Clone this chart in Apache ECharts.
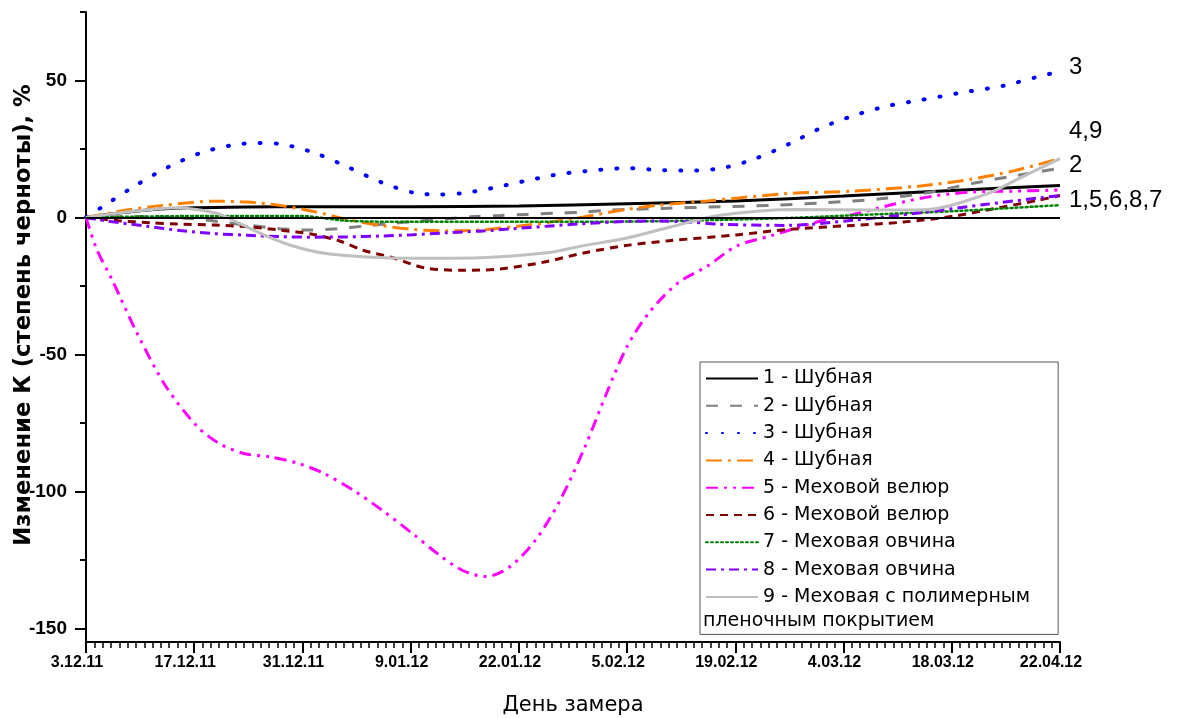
<!DOCTYPE html>
<html>
<head>
<meta charset="utf-8">
<script src="https://cdn.jsdelivr.net/npm/echarts/dist/echarts.min.js"></script>
<style>
  html, body { margin: 0; padding: 0; background: #fff; }
  #chart { width: 1184px; height: 718px; }
</style>
</head>
<body>
<div id="chart"></div>
<script>
// подписи по оси X (равномерные деления)
const dateLabels = ["3.12.11", "17.12.11", "31.12.11", "9.01.12", "22.01.12",
  "5.02.12", "19.02.12", "4.03.12", "18.03.12", "22.04.12"];
const yMajorTicks = [-150, -100, -50, 0, 50];
const yMinorTicks = [-125, -75, -25, 25, 75];

const seriesNames = [
  "1 - Шубная",
  "2 - Шубная",
  "3 - Шубная",
  "4 - Шубная",
  "5 - Меховой велюр",
  "6 - Меховой велюр",
  "7 - Меховая овчина",
  "8 - Меховая овчина",
  "9 - Меховая с полимерным"
];

// x - позиция в делениях оси, y - изменение, %
const x1 = [0, 0.3, 0.6, 1, 1.5, 2, 3, 4, 5, 6, 7, 8, 9];
const y1 = [0, 1.6, 2.8, 3.5, 3.8, 3.9, 3.9, 4.2, 5, 6, 7.8, 9.8, 11.7];

const x2 = [0, 0.5, 1, 1.3, 1.79, 2.07, 2.32, 2.56, 2.81, 3.06, 3.33, 3.58, 3.83, 4.07, 4.32, 4.57, 4.81, 5.33, 5.86, 6.32, 6.85, 7.34, 7.77, 8.2, 8.57, 9];
const y2 = [0, 0.3, -0.5, -1.9, -4.1, -4.6, -4.1, -3.2, -2.2, -1.4, -0.5, 0.3, 0.7, 1.1, 1.5, 1.9, 2.6, 3.3, 3.9, 4.4, 5.4, 6.8, 9, 12.5, 15.1, 18];

const x3 = [0, 0.16, 0.46, 0.76, 1.07, 1.37, 1.6, 1.83, 2.13, 2.43, 2.73, 3.03, 3.26, 3.49, 3.79, 4.09, 4.39, 4.7, 5, 5.3, 5.6, 5.9, 6.2, 6.51, 6.81, 7.12, 7.42, 7.72, 8.08, 8.48, 8.78, 9];
const y3 = [0, 4.1, 11.7, 18.4, 23.7, 26.5, 27.2, 26.6, 23.3, 18.2, 12.8, 9, 8.4, 8.9, 11, 13.6, 15.9, 17.2, 18, 17.3, 17.1, 18.2, 21.7, 27.1, 33, 37.5, 40.8, 42.9, 45.5, 48.1, 51.2, 53.3];

const x4 = [0, 0.35, 0.71, 1.18, 1.49, 1.79, 2.1, 2.41, 2.72, 3.02, 3.33, 3.64, 3.95, 4.26, 4.6, 4.96, 5.27, 5.74, 6.48, 7.09, 7.71, 8.17, 8.57, 9];
const y4 = [0, 2.5, 4.4, 5.9, 5.6, 4.4, 2.2, -0.7, -2.9, -4.4, -4.9, -4.6, -3.4, -1.9, 0.2, 2.7, 4.4, 6, 8.7, 9.6, 11.5, 13.9, 17, 21.5];

const x5 = [0, 0.1, 0.24, 0.47, 0.74, 1.03, 1.23, 1.46, 1.7, 1.97, 2.2, 2.47, 2.74, 3.02, 3.25, 3.48, 3.7, 3.91, 4.15, 4.38, 4.61, 4.81, 5, 5.2, 5.47, 5.74, 6.01, 6.32, 6.78, 7.09, 7.46, 7.83, 8.2, 8.57, 9];
const y5 = [0, -11.7, -22.7, -42.1, -61.8, -76.4, -82.5, -86.2, -87.4, -89.9, -93.5, -99.6, -107, -115.5, -122.8, -128.9, -131.1, -127.7, -118, -103.3, -83.8, -64.2, -47.1, -34.9, -23.9, -17.8, -10.5, -6.8, -1.4, 1.1, 4.8, 7.8, 9.3, 9.6, 10];

const x6 = [0, 0.3, 0.59, 0.84, 1.18, 1.49, 1.79, 2.1, 2.35, 2.56, 2.81, 3.13, 3.48, 3.83, 4.22, 4.61, 5, 5.39, 6.01, 6.48, 7.09, 7.55, 8.02, 8.39, 8.79, 9];
const y6 = [0, -1.2, -1.9, -2.4, -2.8, -3.4, -4.6, -6.2, -8.7, -12, -14.4, -18.4, -19.3, -18.8, -16.4, -12.9, -10.2, -8.5, -6.4, -4.4, -2.9, -1.7, 0.5, 3.2, 6.2, 8];

const x7 = [0, 1, 2, 2.4, 3, 4, 5, 5.86, 6.5, 7.09, 8.02, 9];
const y7 = [0, 0.5, 0.5, -1.2, -1.6, -1.6, -1.5, -0.9, -0.2, 0.8, 2.3, 4.5];

const x8 = [0, 0.19, 0.56, 0.87, 1.18, 1.49, 1.79, 2.1, 2.41, 2.72, 3.02, 3.33, 3.64, 3.95, 4.26, 4.54, 4.97, 5.27, 5.58, 5.86, 6.48, 7.09, 7.71, 8.32, 9];
const y8 = [0, -1.3, -3.2, -4.8, -5.9, -6.5, -7, -7.2, -7.1, -6.8, -6.3, -5.6, -5, -4.1, -3.2, -2.4, -1.5, -1.3, -1.7, -2.5, -2.9, -1, 1.7, 4.8, 8];

const x9 = [0, 0.3, 0.56, 0.81, 1.02, 1.24, 1.42, 1.67, 1.92, 2.22, 2.59, 3.02, 3.64, 4.26, 4.57, 5, 5.4, 5.86, 6.56, 7.25, 7.75, 8.32, 8.61, 9];
const y9 = [0, 1.6, 2.7, 3.4, 2.9, 1.1, -2.2, -6.8, -10.5, -13.2, -14.4, -14.9, -14.7, -12.9, -10.5, -7.5, -3.5, 0.8, 2.9, 2.7, 2.8, 8.5, 14, 21.5];

const allX = [x1, x2, x3, x4, x5, x6, x7, x8, x9];
const allY = [y1, y2, y3, y4, y5, y6, y7, y8, y9];

const colors = ["#000000", "#808080", "#0000ff", "#ff8000", "#ff00ff", "#800000", "#008000", "#8000ff", "#c0c0c0"];
const dashes = ["solid", [12, 12], [1, 15], [16, 6, 3, 6], [12, 6, 3, 6, 3, 6], [8, 6], [2, 3], [10, 5, 3, 5], "solid"];
const widths = [3, 3, 4, 3, 3, 3, 2.5, 3, 3];

const font = "Liberation Sans";
const wideFont = "DejaVu Sans";

const myChart = echarts.init(document.getElementById("chart"));

const seriesArr = seriesNames.map((name, i) => {
  const s = {
    name: name,
    type: "line",
    smooth: 0.3,
    symbol: "none",
    data: allX[i].map((x, k) => [x, allY[i][k]]),
    lineStyle: {
      color: colors[i],
      width: widths[i],
      type: dashes[i],
      cap: i === 2 || i === 6 ? "round" : "butt"
    },
    itemStyle: { color: colors[i] }
  };
  if (i === 0) {
    // нулевая линия
    s.markLine = {
      silent: true,
      symbol: "none",
      label: { show: false },
      lineStyle: { color: "#000", width: 2, type: "solid" },
      data: [{ yAxis: 0 }]
    };
  }
  return s;
});

myChart.setOption({
  animation: false,
  backgroundColor: "#fff",
  grid: { left: 86, right: 124, top: 12, bottom: 76, outerBoundsMode: "none" },
  xAxis: {
    type: "value",
    min: 0,
    max: 9,
    interval: 1,
    name: "День замера",
    nameLocation: "middle",
    nameGap: 53,
    nameMoveOverlap: false,
    nameTextStyle: { fontFamily: wideFont, fontSize: 21, color: "#000" },
    axisLine: { onZero: false, lineStyle: { color: "#000", width: 2 } },
    axisTick: { length: 11, lineStyle: { color: "#000", width: 2 } },
    minorTick: { show: true, splitNumber: 13, length: 6, lineStyle: { color: "#000", width: 1.5 } },
    splitLine: { show: false },
    axisLabel: {
      margin: 13,
      padding: [0, 18, 0, 0],
      fontFamily: font,
      fontSize: 16,
      fontWeight: "bold",
      color: "#000",
      formatter: (v) => dateLabels[Math.round(v)]
    }
  },
  yAxis: [
    {
      type: "value",
      min: -155,
      max: 75,
      name: "Изменение К (степень черноты), %",
      nameLocation: "middle",
      nameGap: 50,
      nameMoveOverlap: false,
      nameTextStyle: { fontFamily: wideFont, fontSize: 22.7, fontWeight: "bold", color: "#000", padding: [0, 0, 0, 24] },
      axisLine: { show: true, onZero: false, lineStyle: { color: "#000", width: 2 } },
      axisTick: { show: true, length: 11, customValues: yMajorTicks, lineStyle: { color: "#000", width: 2 } },
      axisLabel: {
        margin: 19,
        customValues: yMajorTicks,
        fontFamily: font,
        fontSize: 19,
        fontWeight: "bold",
        color: "#000"
      },
      splitLine: { show: false }
    },
    {
      type: "value",
      position: "left",
      min: -155,
      max: 75,
      axisLine: { show: false, onZero: false },
      axisTick: { show: true, length: 6, customValues: yMinorTicks, lineStyle: { color: "#000", width: 2 } },
      axisLabel: { show: false },
      splitLine: { show: false }
    }
  ],
  legend: {
    orient: "vertical",
    left: 700,
    top: 362,
    itemWidth: 52,
    itemHeight: 14,
    itemGap: 8.3,
    padding: [7, 28, 28, 5],
    borderColor: "#555",
    borderWidth: 1,
    itemStyle: { opacity: 0 },
    textStyle: { fontFamily: wideFont, fontSize: 19, lineHeight: 19, color: "#000" },
    data: seriesNames
  },
  graphic: [
    { type: "text", left: 703, top: 612, style: { text: "пленочным покрытием", font: "19px 'DejaVu Sans'", fill: "#000" } },
    { type: "text", left: 1069, top: 55, style: { text: "3", font: "24px 'Liberation Sans'", fill: "#000" } },
    { type: "text", left: 1069, top: 119, style: { text: "4,9", font: "24px 'Liberation Sans'", fill: "#000" } },
    { type: "text", left: 1069, top: 153, style: { text: "2", font: "24px 'Liberation Sans'", fill: "#000" } },
    { type: "text", left: 1069, top: 188, style: { text: "1,5,6,8,7", font: "24px 'Liberation Sans'", fill: "#000" } }
  ],
  series: seriesArr
});
</script>
</body>
</html>
